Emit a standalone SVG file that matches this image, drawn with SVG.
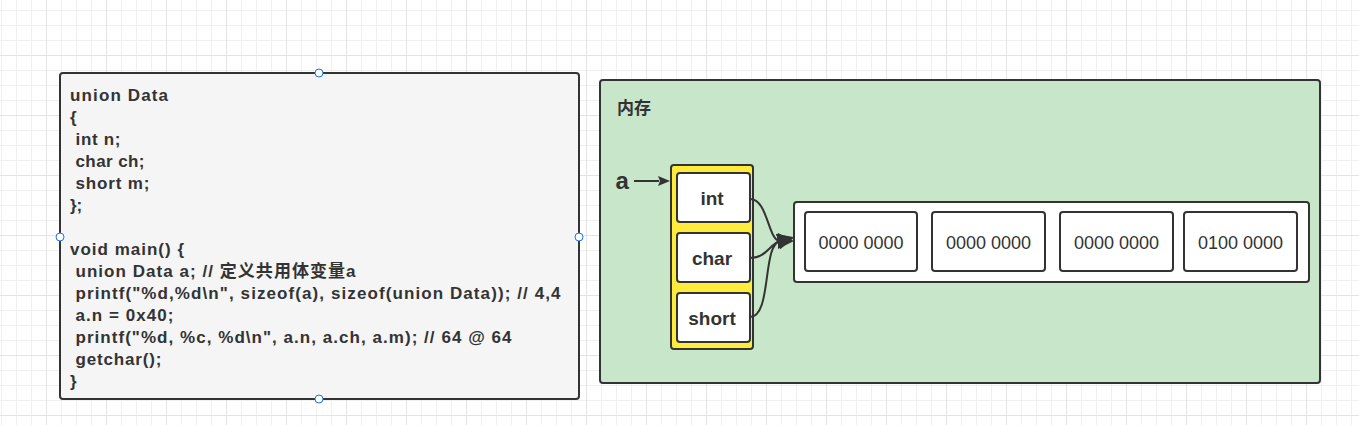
<svg xmlns="http://www.w3.org/2000/svg" width="1359" height="425" viewBox="0 0 1359 425">
<defs>
<pattern id="grid" x="46" y="55" width="60" height="60" patternUnits="userSpaceOnUse">
<path d="M15.5 0V60M30.5 0V60M45.5 0V60M0 15.5H60M0 30.5H60M0 45.5H60" stroke="#f0f0f0" stroke-width="1" fill="none"/>
<path d="M0.5 0V60M0 0.5H60" stroke="#e4e4e4" stroke-width="1" fill="none"/>
</pattern>
<marker id="bigArrow" viewBox="0 0 16 16" refX="2" refY="8" markerWidth="16" markerHeight="16" markerUnits="userSpaceOnUse" orient="auto">
<path d="M0 0L16 8L0 16Z" fill="#333"/>
</marker>
<marker id="smallArrow" viewBox="0 0 12 10" refX="1" refY="5" markerWidth="12" markerHeight="10" markerUnits="userSpaceOnUse" orient="auto">
<path d="M0 0L12 5L0 10L2 5Z" fill="#333"/>
</marker>
</defs>
<style>
text{font-family:"Liberation Sans","Noto Sans CJK SC",sans-serif;font-weight:bold;fill:#333}
.code{font-size:17px}
.box{stroke:#333;stroke-width:2}
.cell{fill:#fff;stroke:#333;stroke-width:2}
.lbl{font-size:19px;text-anchor:middle}
.byte{font-size:18px;font-weight:normal;text-anchor:middle}
.handle{fill:#fff;stroke:#1a73e8;stroke-width:1}
.conn{fill:none;stroke:#333;stroke-width:2}
</style>
<rect width="1359" height="425" fill="#fff"/>
<rect width="1359" height="425" fill="url(#grid)"/>

<g id="code">
<rect class="box" x="60" y="73" width="519" height="326" rx="3" fill="#f5f5f5"/>
<text class="code" x="70" y="101" textLength="98" lengthAdjust="spacing">union Data</text>
<text class="code" x="70" y="123">{</text>
<text class="code" x="75.5" y="145" textLength="45" lengthAdjust="spacing">int n;</text>
<text class="code" x="75.5" y="167" textLength="69" lengthAdjust="spacing">char ch;</text>
<text class="code" x="75.5" y="189" textLength="74" lengthAdjust="spacing">short m;</text>
<text class="code" x="70" y="211">};</text>
<text class="code" x="70" y="255" textLength="114" lengthAdjust="spacing">void main() {</text>
<text class="code" x="75.5" y="277" textLength="280" lengthAdjust="spacing">union Data a; // 定义共用体变量a</text>
<text class="code" x="75.5" y="299" textLength="485" lengthAdjust="spacing">printf("%d,%d\n", sizeof(a), sizeof(union Data)); // 4,4</text>
<text class="code" x="75.5" y="321" textLength="98" lengthAdjust="spacing">a.n = 0x40;</text>
<text class="code" x="75.5" y="343" textLength="436" lengthAdjust="spacing">printf("%d, %c, %d\n", a.n, a.ch, a.m); // 64 @ 64</text>
<text class="code" x="75.5" y="365" textLength="86" lengthAdjust="spacing">getchar();</text>
<text class="code" x="70" y="387">}</text>
<circle class="handle" cx="319" cy="73" r="4"/>
<circle class="handle" cx="60" cy="237" r="4"/>
<circle class="handle" cx="579" cy="237" r="4"/>
<circle class="handle" cx="319" cy="399" r="4"/>
</g>

<g id="memory">
<rect class="box" x="600" y="80" width="720" height="303" rx="3" fill="#c8e6c9"/>
<text x="617" y="114" style="font-size:17px">内存</text>
</g>

<g id="label-a">
<text x="615.5" y="188.5" style="font-size:24px">a</text>
</g>

<g id="union-a">
<rect class="box" x="671" y="165" width="82" height="184" rx="3" fill="#ffeb3b"/>
</g>
<g id="field-int">
<rect class="cell" x="677" y="173" width="73" height="49" rx="3"/>
<text class="lbl" x="712" y="205">int</text>
</g>
<g id="field-char">
<rect class="cell" x="677" y="233" width="73" height="49" rx="3"/>
<text class="lbl" x="712" y="265">char</text>
</g>
<g id="field-short">
<rect class="cell" x="677" y="293" width="73" height="49" rx="3"/>
<text class="lbl" x="712" y="325">short</text>
</g>

<g id="bytes">
<rect class="cell" x="794" y="202" width="515" height="80" rx="3"/>
</g>
<g id="byte1">
<rect class="cell" x="805" y="212" width="112" height="59" rx="3"/>
<text class="byte" x="861" y="249">0000 0000</text>
</g>
<g id="byte2">
<rect class="cell" x="932" y="212" width="113" height="59" rx="3"/>
<text class="byte" x="988.5" y="249">0000 0000</text>
</g>
<g id="byte3">
<rect class="cell" x="1060" y="212" width="113" height="59" rx="3"/>
<text class="byte" x="1116.5" y="249">0000 0000</text>
</g>
<g id="byte4">
<rect class="cell" x="1184" y="212" width="113" height="59" rx="3"/>
<text class="byte" x="1240.5" y="249">0100 0000</text>
</g>

<g id="connectors">
<path class="conn" d="M634 181H659" marker-end="url(#smallArrow)"/>
<path class="conn" d="M750 199C768 199 768 241 780 241" marker-end="url(#bigArrow)"/>
<path class="conn" d="M750 258C766 258 770 244 780 241" marker-end="url(#bigArrow)"/>
<path class="conn" d="M750 317C772 317 762 245 780 241" marker-end="url(#bigArrow)"/>
</g>
</svg>
